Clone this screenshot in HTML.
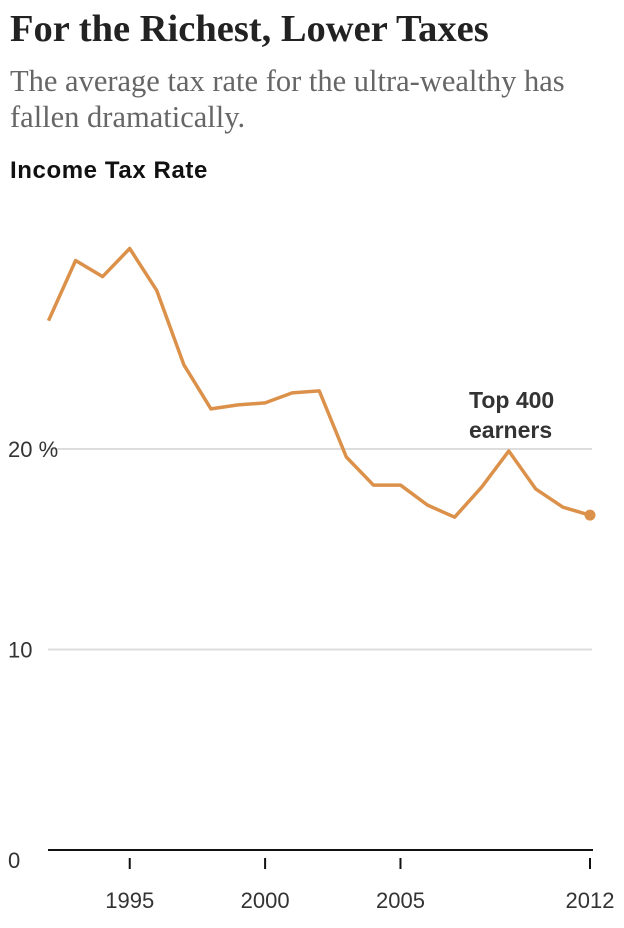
<!DOCTYPE html>
<html><head><meta charset="utf-8"><style>
body{margin:0;background:#fff;width:624px;height:928px;overflow:hidden;font-family:"Liberation Sans",sans-serif}
h1{position:absolute;left:10px;top:7px;margin:0;font-family:"Liberation Serif",serif;font-weight:bold;font-size:38.5px;color:#222;letter-spacing:0px;white-space:nowrap}
.sub{position:absolute;left:10px;top:63px;font-family:"Liberation Serif",serif;font-size:30.5px;line-height:36px;color:#666;width:600px}
.yt{position:absolute;left:10px;top:157px;font-weight:bold;font-size:24px;letter-spacing:0.6px;color:#111}
svg{position:absolute;left:0;top:0}
</style></head><body>
<h1>For the Richest, Lower Taxes</h1>
<div class="sub">The average tax rate for the ultra-wealthy has fallen dramatically.</div>
<div class="yt">Income Tax Rate</div>
<svg id="c" width="624" height="928"></svg>
<script>
const years=[1992,1993,1994,1995,1996,1997,1998,1999,2000,2001,2002,2003,2004,2005,2006,2007,2008,2009,2010,2011,2012];
const rates=[26.4,29.4,28.6,30.0,27.9,24.2,22.0,22.2,22.3,22.8,22.9,19.6,18.2,18.2,17.2,16.6,18.1,19.9,18.0,17.1,16.7];
const yTicks=[10,20];
const yTickLabels=["10","20 %"];
const xTicks=[1995,2000,2005,2012];
const xTickLabels=["1995","2000","2005","2012"];
const NS="http://www.w3.org/2000/svg";
const svg=document.getElementById('c');
const x=v=>48.5+(v-1992)*(590-48.5)/20;
const y=v=>850-v*20.05;
function mk(t,a){const e=document.createElementNS(NS,t);for(const k in a)e.setAttribute(k,a[k]);svg.appendChild(e);return e;}
yTicks.forEach((t,i)=>{
 const l=mk('line',{x1:48,x2:592,y1:y(t),y2:y(t),stroke:'#ddd','stroke-width':2});
 
 
 const tx=mk('text',{x:8,y:y(t)+8,'font-size':22,fill:'#333','font-family':'Liberation Sans, sans-serif'});
 tx.textContent=yTickLabels[i];
 
 
});
const z=mk('text',{x:8,y:868,'font-size':22,fill:'#333','font-family':'Liberation Sans, sans-serif'});
z.textContent='0';


const b=mk('line',{x1:48,x2:593,y1:850,y2:850,stroke:'#111','stroke-width':2});


xTicks.forEach((t,i)=>{
 const l=mk('line',{x1:x(t),x2:x(t),y1:858,y2:869,stroke:'#111','stroke-width':2});
 
 
 const tx=mk('text',{x:x(t),y:908,'font-size':22,fill:'#333','text-anchor':'middle','font-family':'Liberation Sans, sans-serif'});
 tx.textContent=xTickLabels[i];
 
 
});
const p=mk('polyline',{points:years.map((yr,i)=>x(yr)+','+y(rates[i])).join(' '),fill:'none',stroke:'#dc914b','stroke-width':3.5,'stroke-linejoin':'round'});


const n=years.length-1;
const d=mk('circle',{cx:x(years[n]),cy:y(rates[n]),r:5.5,fill:'#dc914b'});


['Top 400','earners'].forEach((s,i)=>{
 const t=mk('text',{x:469,y:408+i*30,'font-size':23,'font-weight':'bold',fill:'#333','font-family':'Liberation Sans, sans-serif'});
 t.textContent=s;
 
 
});
</script>
</body></html>
